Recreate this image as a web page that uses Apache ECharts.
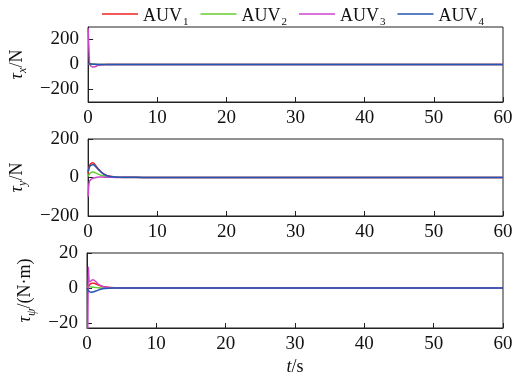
<!DOCTYPE html>
<html><head><meta charset="utf-8">
<script src="https://cdn.jsdelivr.net/npm/echarts@6/dist/echarts.min.js"></script>
<style>html,body{margin:0;padding:0;background:#fff}#c{width:529px;height:378px}</style>
</head><body><div id="c"></div>
<script>
// time samples (s)
const time = [0, 0.1, 0.2, 0.3, 0.4, 0.6, 0.8, 1.0, 1.3, 1.6, 2.0, 2.5, 3, 4, 5, 6, 8, 10, 15, 20, 30, 40, 50, 60];
const seriesNames = ['AUV1', 'AUV2', 'AUV3', 'AUV4'];
const xTicks = [0, 10, 20, 30, 40, 50, 60];

// tau_x (N)
const tauX_AUV1 = [0, 4, 5, 4, 3, 2, 1.5, 1, 0.5, 0.2, 0, 0, 0, 0, 0, 0, 0, 0, 0, 0, 0, 0, 0, 0];
const tauX_AUV2 = [0, 3, 4, 4, 3, 2, 1.5, 1, 0.5, 0.2, 0, 0, 0, 0, 0, 0, 0, 0, 0, 0, 0, 0, 0, 0];
const tauX_AUV3 = [290, 150, 20, -5, -12, -18, -20, -18, -10, -5, -2, -1, 0, 0, 0, 0, 0, 0, 0, 0, 0, 0, 0, 0];
const tauX_AUV4 = [0, 4, 5, 5, 4, 3, 2, 1.5, 1, 0.5, 0.2, 0, 0, 0, 0, 0, 0, 0, 0, 0, 0, 0, 0, 0];
const tauXTicks = [-200, 0, 200];

// tau_y (N)
const tauY_AUV1 = [20, 45, 60, 68, 72, 76, 75, 66, 52, 40, 26, 14, 8, 3, 1.5, 1, 0.5, 0, 0, 0, 0, 0, 0, 0];
const tauY_AUV2 = [5, 12, 18, 22, 25, 28, 28, 25, 20, 15, 10, 6, 3, 1.5, 0.5, 0.3, 0, 0, 0, 0, 0, 0, 0, 0];
const tauY_AUV3 = [-100, -40, -20, -14, -10, -6, -3, -1, 1, 2, 2, 1.5, 1, 0.5, 0, 0, 0, 0, 0, 0, 0, 0, 0, 0];
const tauY_AUV4 = [30, 45, 55, 60, 63, 66, 66, 60, 48, 37, 24, 13, 7, 3, 1.5, 1, 0.5, 0, 0, 0, 0, 0, 0, 0];
const tauYTicks = [-200, 0, 200];

// tau_psi (N·m)
const tauP_AUV1 = [0, 0.5, 1, 1.5, 2, 2.5, 2.7, 2.6, 2.2, 1.7, 1.1, 0.6, 0.3, 0.1, 0, 0, 0, 0, 0, 0, 0, 0, 0, 0];
const tauP_AUV2 = [0, 0.3, 0.5, 0.6, 0.6, 0.5, 0.4, 0.3, 0.2, 0.1, 0, 0, 0, 0, 0, 0, 0, 0, 0, 0, 0, 0, 0, 0];
const tauP_AUV3 = [-30, -28, 12, 4, 3.5, 4, 4.6, 4.5, 3.5, 2.2, 1.2, 0.5, 0.2, 0, 0, 0, 0, 0, 0, 0, 0, 0, 0, 0];
const tauP_AUV4 = [0, -0.8, -1.5, -2, -2.3, -2.5, -2.4, -2.2, -1.8, -1.3, -0.8, -0.4, -0.2, -0.1, 0, 0, 0, 0, 0, 0, 0, 0, 0, 0];
const tauPTicks = [-20, 0, 20];

const colors = ['#ee2222', '#66cc33', '#cc44cc', '#2255b5'];
const FONT = "'Liberation Serif', 'Times New Roman', serif";

const pair = arr => time.map((t, i) => [t, arr[i]]);
const panels = [
  { data: [tauX_AUV1, tauX_AUV2, tauX_AUV3, tauX_AUV4], min: -300, max: 300, ticks: tauXTicks, name: '{t|τ}{s|x}{n|/N}', gap: 57 },
  { data: [tauY_AUV1, tauY_AUV2, tauY_AUV3, tauY_AUV4], min: -200, max: 200, ticks: tauYTicks, name: '{t|τ}{s|y}{n|/N}', gap: 57 },
  { data: [tauP_AUV1, tauP_AUV2, tauP_AUV3, tauP_AUV4], min: -23, max: 20, ticks: tauPTicks, name: '{t|τ}{s|ψ}{n|/(N·m)}', gap: 48 }
];
const grids = [
  { left: 87, top: 27, width: 416, height: 75 },
  { left: 87, top: 139, width: 416, height: 77 },
  { left: 87, top: 253, width: 416, height: 75 }
];
const lbl = { fontFamily: FONT, fontSize: 19, color: '#111' };
const minus = v => String(v).replace('-', '\u2212');

const option = {
  animation: false,
  legend: {
    top: 2, left: 97, itemGap: 12, itemWidth: 36, itemHeight: 1.4, icon: 'rect',
    data: seriesNames,
    formatter: n => '{a|AUV}{s|' + n.slice(3) + '}',
    textStyle: {
      fontFamily: FONT, fontSize: 18, color: '#111',
      rich: { a: { fontFamily: FONT, fontSize: 18, color: '#111', lineHeight: 22, verticalAlign: 'bottom' },
              s: { fontFamily: FONT, fontSize: 11, color: '#111', lineHeight: 22, verticalAlign: 'bottom', padding: [0, 0, -3, 1] } }
    }
  },
  grid: grids.map(g => Object.assign({ show: true, borderColor: '#222', borderWidth: 1 }, g)),
  xAxis: grids.map((g, i) => ({
    type: 'value', gridIndex: i, min: 0, max: 60, interval: 10,
    axisLine: { show: true, onZero: false, lineStyle: { color: '#222' } },
    axisTick: { inside: true, length: 5, lineStyle: { color: '#222' } },
    axisLabel: Object.assign({ margin: 7 }, lbl),
    splitLine: { show: false },
    name: i === 2 ? '{i|t}{n|/s}' : '',
    nameLocation: 'middle', nameGap: 30,
    nameTextStyle: { rich: { i: { fontFamily: FONT, fontSize: 18, fontStyle: 'italic', color: '#111' }, n: { fontFamily: FONT, fontSize: 18, color: '#111' } } }
  })),
  yAxis: panels.map((p, i) => ({
    type: 'value', gridIndex: i, min: p.min, max: p.max,
    axisLine: { show: true, onZero: false, lineStyle: { color: '#222' } },
    axisTick: { inside: true, length: 5, customValues: p.ticks, lineStyle: { color: '#222' } },
    axisLabel: Object.assign({ margin: 9, customValues: p.ticks, formatter: minus }, lbl),
    splitLine: { show: false },
    name: p.name, nameLocation: 'middle', nameGap: p.gap,
    nameTextStyle: { rich: {
      t: { fontFamily: FONT, fontSize: 18, fontStyle: 'italic', color: '#111', lineHeight: 22, verticalAlign: 'bottom' },
      s: { fontFamily: FONT, fontSize: 12, fontStyle: 'italic', color: '#111', lineHeight: 22, verticalAlign: 'bottom', padding: [0, 0, -3, 0] },
      n: { fontFamily: FONT, fontSize: 18, color: '#111', lineHeight: 22, verticalAlign: 'bottom' } } }
  })),
  series: []
};
panels.forEach((p, gi) => {
  p.data.forEach((arr, si) => {
    option.series.push({
      type: 'line', name: seriesNames[si], xAxisIndex: gi, yAxisIndex: gi,
      data: pair(arr), symbol: 'none', smooth: 0.25, clip: true,
      color: colors[si], lineStyle: { width: 1.5, color: colors[si] }, z: si === 3 ? 5 : 3
    });
  });
});
const chart = echarts.init(document.getElementById('c'), null, { renderer: 'canvas' });
chart.setOption(option);
</script></body></html>
